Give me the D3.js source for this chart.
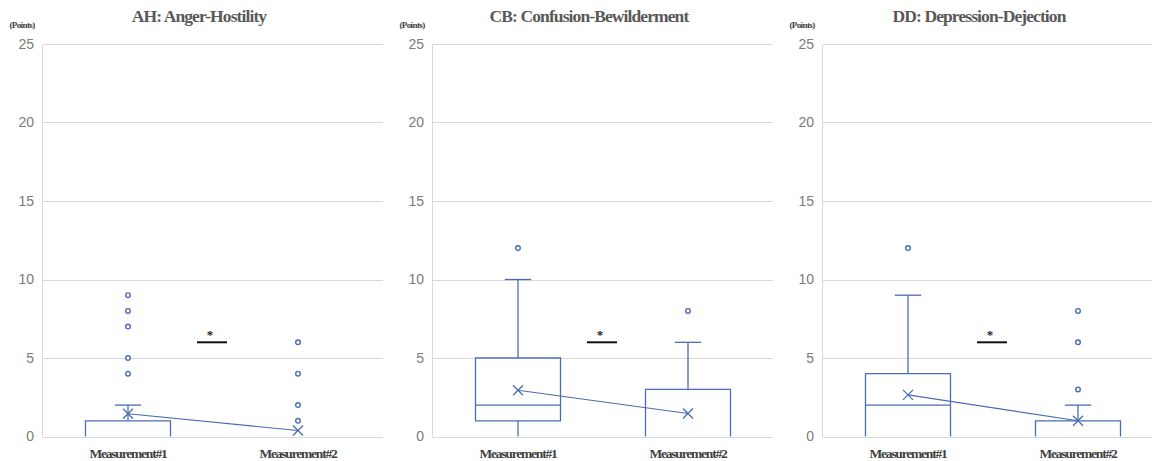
<!DOCTYPE html>
<html>
<head>
<meta charset="utf-8">
<script src="https://cdn.jsdelivr.net/npm/d3@7"></script>
<style>
  body { margin: 0; background: #ffffff; overflow: hidden; }
</style>
</head>
<body>
<div id="container-1"></div>
<script>
// chart values
const titles = ["AH: Anger-Hostility", "CB: Confusion-Bewilderment", "DD: Depression-Dejection"];
const categories = ["Measurement #1", "Measurement #2"];
const yTicks = [0, 5, 10, 15, 20, 25];

// per panel, per category
const q1 = [[0, 0], [1, 0], [0, 0]];
const medians = [[0, 0], [2, 0], [2, 0]];
const q3 = [[1, 0], [5, 3], [4, 1]];
const whiskerLow = [[0, 0], [0, 0], [0, 0]];
const whiskerHigh = [[2, 0], [10, 6], [9, 2]];
const means = [[1.45, 0.38], [2.95, 1.47], [2.65, 1.0]];
const outliers = [
  [[4, 5, 7, 8, 9], [1, 2, 4, 6]],
  [[12], [8]],
  [[12], [3, 6, 8]]
];
const sigLevel = [6, 6, 6];

const width = 1152;
const height = 461;
const blue = "#4a6cb3";
const gridColor = "#d9d9d9";

const svg = d3.select("#container-1")
  .append("svg")
    .attr("width", width)
    .attr("height", height);

const panelLeft = [43, 433, 823];
const plotW = 340;
const plotTop = 44, plotBottom = 436.5;

const y = d3.scaleLinear().domain([0, 25]).range([plotBottom, plotTop]);
const x = d3.scaleBand().domain(categories).range([0, plotW]).paddingInner(0).paddingOuter(0);
const boxW = x.bandwidth() * 0.5;
const capW = boxW * 0.31;

titles.forEach(function(title, p) {
  const g = svg.append("g")
    .attr("transform", "translate(" + panelLeft[p] + ",0)");

  // gridlines
  g.selectAll(".grid")
    .data(yTicks)
    .enter()
    .append("line")
      .attr("class", "grid")
      .attr("x1", 0)
      .attr("x2", plotW)
      .attr("y1", d => Math.round(y(d)) + 0.5)
      .attr("y2", d => Math.round(y(d)) + 0.5)
      .attr("stroke", gridColor)
      .attr("stroke-width", 1);

  // left axis line
  g.append("line")
    .attr("x1", -0.5).attr("x2", -0.5)
    .attr("y1", Math.round(y(25)) + 0.5)
    .attr("y2", Math.round(y(0)) + 0.5)
    .attr("stroke", gridColor);

  // y tick labels
  g.selectAll(".ytick")
    .data(yTicks)
    .enter()
    .append("text")
      .attr("class", "ytick")
      .attr("x", -9)
      .attr("y", d => y(d))
      .attr("dy", "0.35em")
      .attr("text-anchor", "end")
      .attr("font-family", "Liberation Sans, Arial, sans-serif")
      .attr("font-size", 14)
      .attr("fill", "#7b7b7b")
      .text(d => d);

  // unit label
  g.append("text")
    .attr("x", -21)
    .attr("y", 28)
    .attr("text-anchor", "middle")
    .attr("font-family", "Liberation Serif, Times New Roman, serif")
    .attr("font-weight", "bold")
    .attr("font-size", 9)
    .attr("letter-spacing", -0.6)
    .attr("fill", "#404040")
    .text("(Points)");

  // title
  g.append("text")
    .attr("x", 156)
    .attr("y", 22)
    .attr("text-anchor", "middle")
    .attr("font-family", "Liberation Serif, Times New Roman, serif")
    .attr("font-weight", "bold")
    .attr("font-size", 17.5)
    .attr("letter-spacing", -0.9)
    .attr("fill", "#595959")
    .text(title);

  // x labels
  g.selectAll(".xlabel")
    .data(categories)
    .enter()
    .append("text")
      .attr("class", "xlabel")
      .attr("x", d => x(d) + x.bandwidth() / 2)
      .attr("y", 458)
      .attr("text-anchor", "middle")
      .attr("font-family", "Liberation Serif, Times New Roman, serif")
      .attr("font-weight", "bold")
      .attr("font-size", 13.5)
      .attr("letter-spacing", -1.2)
      .attr("fill", "#404040")
      .text(d => d.replace(" ", ""));

  // boxes
  categories.forEach(function(cat, c) {
    const cx = x(cat) + x.bandwidth() / 2;
    const bg = g.append("g").attr("class", "box");
    const lo = q1[p][c], hi = q3[p][c];

    // upper whisker
    if (whiskerHigh[p][c] > hi) {
      bg.append("line")
        .attr("x1", cx).attr("x2", cx)
        .attr("y1", y(hi)).attr("y2", y(whiskerHigh[p][c]))
        .attr("stroke", blue).attr("stroke-width", 1.3);
      bg.append("line")
        .attr("x1", cx - capW / 2).attr("x2", cx + capW / 2)
        .attr("y1", y(whiskerHigh[p][c])).attr("y2", y(whiskerHigh[p][c]))
        .attr("stroke", blue).attr("stroke-width", 1.3);
    }
    // lower whisker
    if (whiskerLow[p][c] < lo) {
      bg.append("line")
        .attr("x1", cx).attr("x2", cx)
        .attr("y1", y(lo)).attr("y2", y(whiskerLow[p][c]))
        .attr("stroke", blue).attr("stroke-width", 1.3);
    }
    // box (edges sitting on the zero line are hidden by the axis)
    if (hi > lo) {
      const x0 = cx - boxW / 2, x1 = cx + boxW / 2;
      let d = "M" + x0 + "," + y(lo) + "L" + x0 + "," + y(hi) + "L" + x1 + "," + y(hi) + "L" + x1 + "," + y(lo);
      if (lo > 0) d += "Z";
      bg.append("path")
        .attr("d", d)
        .attr("fill", "#ffffff")
        .attr("stroke", blue)
        .attr("stroke-width", 1.3);
      if (medians[p][c] > 0) {
        bg.append("line")
          .attr("x1", x0).attr("x2", x1)
          .attr("y1", y(medians[p][c])).attr("y2", y(medians[p][c]))
          .attr("stroke", blue).attr("stroke-width", 1.3);
      }
    }
    // outliers
    bg.selectAll(".outlier")
      .data(outliers[p][c])
      .enter()
      .append("circle")
        .attr("class", "outlier")
        .attr("cx", cx)
        .attr("cy", d => y(d))
        .attr("r", 2.3)
        .attr("fill", "#ffffff")
        .attr("stroke", blue)
        .attr("stroke-width", 1.4);
  });

  // mean line
  const meanPts = categories.map((cat, c) => [x(cat) + x.bandwidth() / 2, y(means[p][c])]);
  g.append("path")
    .attr("d", d3.line()(meanPts))
    .attr("fill", "none")
    .attr("stroke", blue)
    .attr("stroke-width", 1.1);

  // mean markers
  meanPts.forEach(function(pt) {
    const s = 5;
    g.append("path")
      .attr("d", "M" + (pt[0] - s) + "," + (pt[1] - s) + "L" + (pt[0] + s) + "," + (pt[1] + s) +
                 "M" + (pt[0] - s) + "," + (pt[1] + s) + "L" + (pt[0] + s) + "," + (pt[1] - s))
      .attr("stroke", blue)
      .attr("stroke-width", 1.3)
      .attr("fill", "none");
  });

  // significance bar
  const mid = plotW / 2 - 1;
  g.append("line")
    .attr("x1", mid - 15).attr("x2", mid + 15)
    .attr("y1", y(sigLevel[p])).attr("y2", y(sigLevel[p]))
    .attr("stroke", "#111111")
    .attr("stroke-width", 2);
  g.append("text")
    .attr("x", mid - 2)
    .attr("y", y(sigLevel[p]) - 3)
    .attr("text-anchor", "middle")
    .attr("font-family", "Liberation Serif, Times New Roman, serif")
    .attr("font-weight", "bold")
    .attr("font-size", 13)
    .attr("fill", "#222222")
    .text("*");
});
</script>
</body>
</html>
